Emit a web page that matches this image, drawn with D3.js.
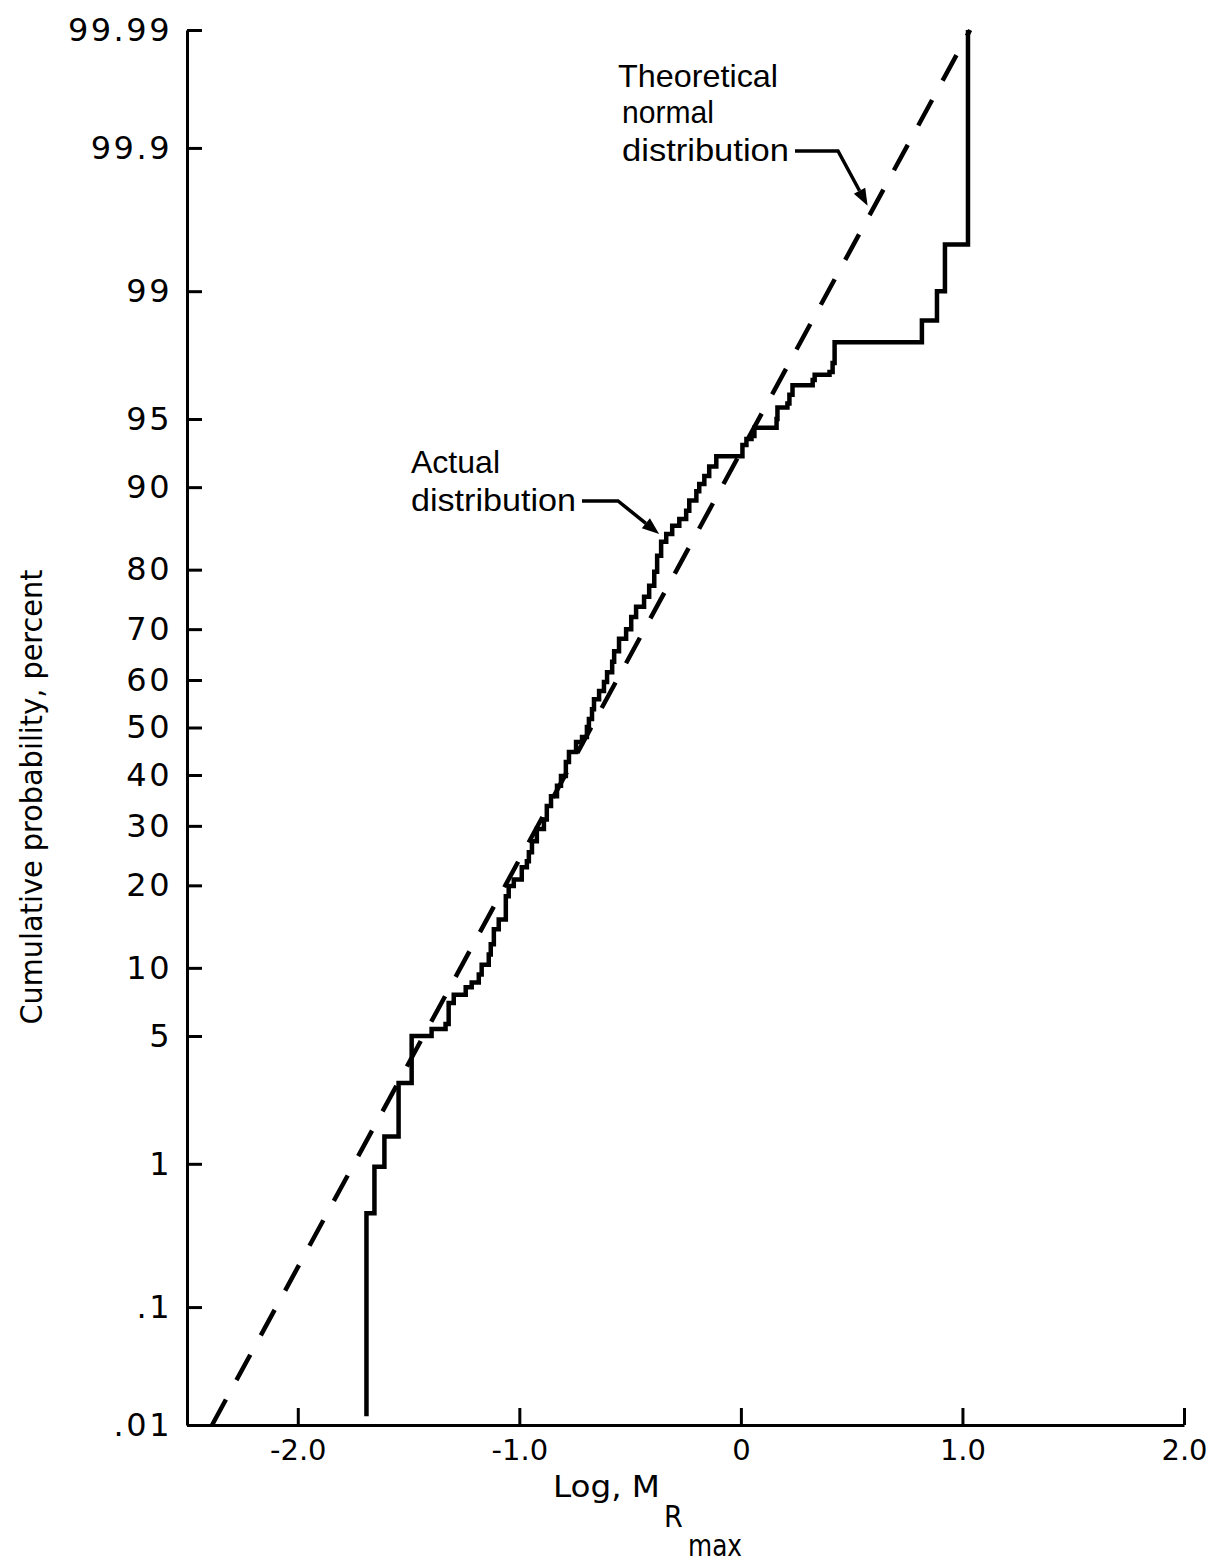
<!DOCTYPE html>
<html><head><meta charset="utf-8">
<script src="https://cdn.jsdelivr.net/npm/d3@7"></script>
<style>body{margin:0;background:#fff}svg{display:block}</style>
</head><body>
<svg id="chart" width="1213" height="1562"></svg>
<script>
// ---------- data ----------
const yTickValues = [0.01, 0.1, 1, 5, 10, 20, 30, 40, 50, 60, 70, 80, 90, 95, 99, 99.9, 99.99];
const yTickLabels = [".01", ".1", "1", "5", "10", "20", "30", "40", "50", "60", "70", "80", "90", "95", "99", "99.9", "99.99"];
const xTickValues = [-2, -1, 0, 1, 2];
const xTickLabels = ["-2.0", "-1.0", "0", "1.0", "2.0"];

// actual distribution: at each x the cumulative probability (percent) steps up to p
const actualX = [-1.690, -1.690, -1.654, -1.609, -1.545, -1.486, -1.396, -1.333, -1.319, -1.296,
  -1.242, -1.215, -1.183, -1.170, -1.138, -1.129, -1.115, -1.093, -1.061, -1.048,
  -1.025, -0.989, -0.966, -0.957, -0.943, -0.921, -0.889, -0.876, -0.857, -0.830,
  -0.812, -0.790, -0.776, -0.744, -0.717, -0.695, -0.686, -0.672, -0.663, -0.640,
  -0.618, -0.604, -0.581, -0.572, -0.550, -0.518, -0.495, -0.473, -0.437, -0.414,
  -0.391, -0.378, -0.360, -0.337, -0.310, -0.278, -0.247, -0.233, -0.201, -0.188,
  -0.165, -0.143, -0.111, 0.007, 0.025, 0.048, 0.061, 0.161, 0.165, 0.210,
  0.219, 0.233, 0.324, 0.333, 0.400, 0.414, 0.423, 0.817, 0.885, 0.921, 1.025];
const actualP = [0.012, 0.48, 0.96, 1.46, 2.9, 5.0, 5.4, 5.7, 7.1, 7.7,
  8.3, 8.7, 9.4, 10.3, 11.3, 12.4, 14.1, 15.3, 18.4, 19.9,
  20.9, 22.8, 23.8, 25.3, 27.2, 29.4, 31.2, 33.8, 35.7, 37.8,
  39.8, 42.7, 44.8, 46.9, 48.0, 50.1, 51.8, 53.9, 56.0, 57.7,
  59.6, 61.6, 63.7, 65.8, 68.2, 70.0, 72.2, 74.0, 75.7, 77.5,
  79.7, 82.0, 83.9, 84.9, 85.9, 86.7, 87.6, 88.7, 89.6, 90.3,
  91.0, 91.8, 92.6, 93.4, 93.8, 94.0, 94.5, 95.0, 95.6, 95.8,
  96.2, 96.6, 96.8, 97.0, 97.1, 97.4, 98.0, 98.5, 99.0, 99.5, 99.99];

// theoretical normal distribution of Log M: mean and standard deviation
const theoMean = -0.676;
const theoSD = 0.46;
const theoP = [0.01, 99.99];

// ---------- helpers ----------
function probit(p) {
  const a = [-3.969683028665376e+01, 2.209460984245205e+02, -2.759285104469687e+02, 1.383577518672690e+02, -3.066479806614716e+01, 2.506628277459239e+00];
  const b = [-5.447609879822406e+01, 1.615858368580409e+02, -1.556989798598866e+02, 6.680131188771972e+01, -1.328068155288572e+01];
  const c = [-7.784894002430293e-03, -3.223964580411365e-01, -2.400758277161838e+00, -2.549732539343734e+00, 4.374664141464968e+00, 2.938163982698783e+00];
  const d = [7.784695709041462e-03, 3.224671290700398e-01, 2.445134137142996e+00, 3.754408661907416e+00];
  const pl = 0.02425, ph = 1 - pl;
  let q, r;
  if (p < pl) {
    q = Math.sqrt(-2 * Math.log(p));
    return (((((c[0]*q+c[1])*q+c[2])*q+c[3])*q+c[4])*q+c[5]) / ((((d[0]*q+d[1])*q+d[2])*q+d[3])*q+1);
  }
  if (p <= ph) {
    q = p - 0.5; r = q*q;
    return (((((a[0]*r+a[1])*r+a[2])*r+a[3])*r+a[4])*r+a[5])*q / (((((b[0]*r+b[1])*r+b[2])*r+b[3])*r+b[4])*r+1);
  }
  q = Math.sqrt(-2 * Math.log(1 - p));
  return -(((((c[0]*q+c[1])*q+c[2])*q+c[3])*q+c[4])*q+c[5]) / ((((d[0]*q+d[1])*q+d[2])*q+d[3])*q+1);
}

// ---------- scales ----------
const svg = d3.select("#chart");
const x = d3.scaleLinear().domain([-2.5, 2.0]).range([187, 1184]);
const zScale = d3.scaleLinear().domain([probit(0.0001), probit(0.9999)]).range([1425, 30]);
const y = p => zScale(probit(p / 100));

const tickFont = "'DejaVu Sans', 'Noto Sans', sans-serif";
const sansFont = "'Liberation Sans', Arial, Helvetica, sans-serif";
const narrowFont = "'Liberation Sans Narrow', 'DejaVu Sans Condensed', 'Liberation Sans', sans-serif";

// ---------- axes ----------
const yAxis = d3.axisLeft(zScale)
  .tickValues(yTickValues.map(p => probit(p / 100)))
  .tickFormat((d, i) => yTickLabels[i])
  .tickSizeInner(-15).tickSizeOuter(0).tickPadding(15);
const gy = svg.append("g").attr("transform", "translate(187,0)").call(yAxis);
gy.attr("font-family", tickFont).attr("font-size", 32);
gy.selectAll("path, line").attr("stroke", "#000").attr("stroke-width", 3);
gy.selectAll("text").attr("fill", "#000").attr("letter-spacing", 2.5);

const xAxis = d3.axisBottom(x)
  .tickValues(xTickValues)
  .tickFormat((d, i) => xTickLabels[i])
  .tickSizeInner(-17).tickSizeOuter(0).tickPadding(14);
const gx = svg.append("g").attr("transform", "translate(0,1425)").call(xAxis);
gx.attr("font-family", tickFont).attr("font-size", 29);
gx.selectAll("path, line").attr("stroke", "#000").attr("stroke-width", 3);
gx.selectAll("text").attr("fill", "#000");

// ---------- theoretical dashed line ----------
const theoLine = d3.line()
  .x(p => x(theoMean + theoSD * probit(p / 100)))
  .y(p => y(p));
svg.append("path")
  .attr("d", theoLine(theoP))
  .attr("fill", "none").attr("stroke", "#000")
  .attr("stroke-width", 4.5).attr("stroke-dasharray", "29,22");

// ---------- actual step line ----------
const actualData = actualX.map((v, i) => ({x: v, p: actualP[i]}));
const stepLine = d3.line().curve(d3.curveStepAfter)
  .x(d => x(d.x)).y(d => y(d.p));
svg.append("path")
  .attr("d", stepLine(actualData))
  .attr("fill", "none").attr("stroke", "#000")
  .attr("stroke-width", 4.5).attr("stroke-linejoin", "miter");

// ---------- titles ----------
svg.append("text")
  .attr("transform", "translate(42,797) rotate(-90)")
  .attr("text-anchor", "middle")
  .attr("font-family", narrowFont).attr("font-size", 30)
  .attr("textLength", 455).attr("lengthAdjust", "spacingAndGlyphs")
  .text("Cumulative probability, percent");

const xt = svg.append("text").attr("font-family", narrowFont).attr("font-size", 30).attr("fill", "#000");
xt.append("tspan").attr("x", 553).attr("y", 1497).attr("textLength", 107).attr("lengthAdjust", "spacingAndGlyphs").text("Log, M");
xt.append("tspan").attr("x", 664).attr("y", 1527).text("R");
xt.append("tspan").attr("x", 688).attr("y", 1556).attr("textLength", 54).attr("lengthAdjust", "spacingAndGlyphs").text("max");

// ---------- annotations ----------
function annot(lines, tipX, tipP, bendX) {
  const g = svg.append("g");
  lines.forEach(l => {
    const t = g.append("text").attr("x", l.x).attr("y", l.y)
      .attr("font-family", sansFont).attr("font-size", 32)
      .text(l.t);
    if (l.w) t.attr("textLength", l.w).attr("lengthAdjust", "spacingAndGlyphs");
  });
  const last = lines[lines.length - 1];
  const ly = last.y - 10;
  const tx = x(tipX), ty = y(tipP);
  const sx = last.x + last.w + 6;
  const ang = Math.atan2(ty - ly, tx - bendX);
  const hl = 17, hw = 6.5;
  const bx = tx - hl * Math.cos(ang), by = ty - hl * Math.sin(ang);
  g.append("path")
    .attr("d", `M${sx},${ly}L${bendX},${ly}L${bx},${by}`)
    .attr("fill", "none").attr("stroke", "#000").attr("stroke-width", 3.5);
  g.append("path")
    .attr("d", `M${tx},${ty}L${bx + hw * Math.sin(ang)},${by - hw * Math.cos(ang)}L${bx - hw * Math.sin(ang)},${by + hw * Math.cos(ang)}Z`)
    .attr("fill", "#000");
}
annot([
  {t: "Theoretical", x: 618, y: 87, w: 160},
  {t: "normal", x: 622, y: 123, w: 92},
  {t: "distribution", x: 622, y: 161, w: 167}
], 0.572, 99.73, 838);

annot([
  {t: "Actual", x: 411, y: 473, w: 89},
  {t: "distribution", x: 411, y: 511, w: 165}
], -0.369, 84.9, 618);
</script>
</body></html>
